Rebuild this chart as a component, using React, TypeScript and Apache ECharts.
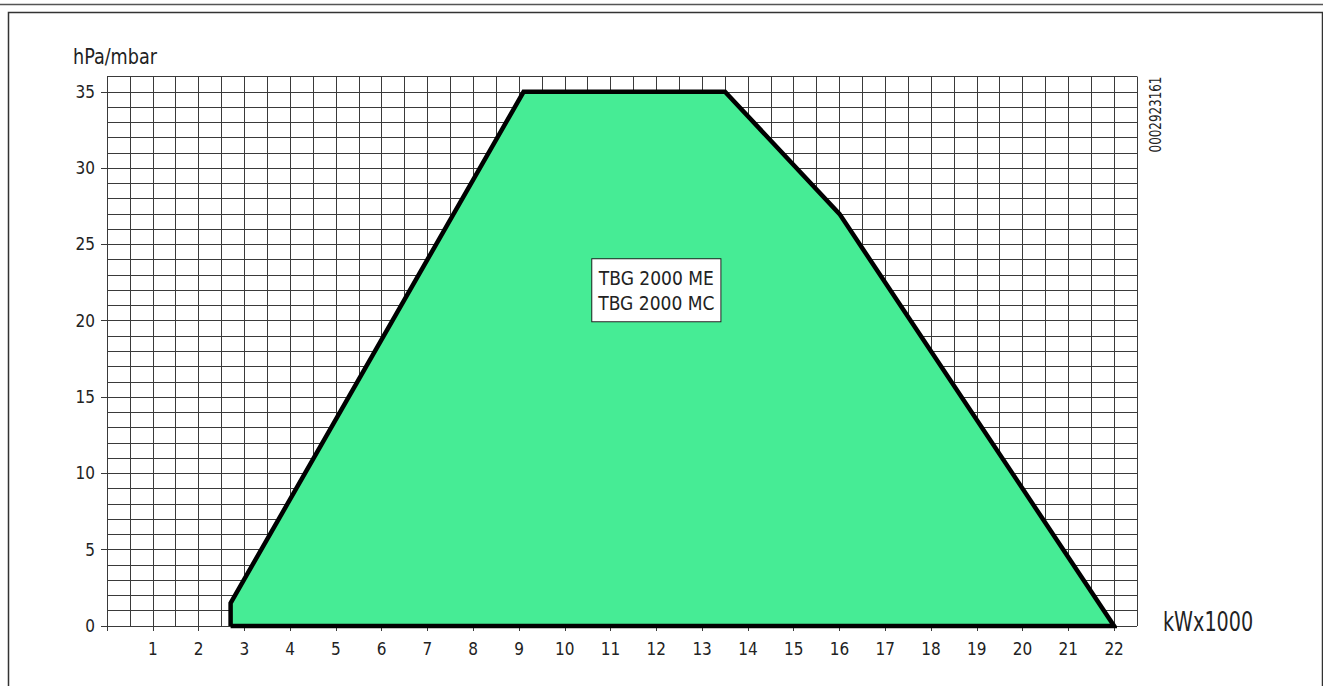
import React, { useEffect, useRef } from "react";
import * as echarts from "echarts";

// Operating range envelope (kW x 1000, hPa/mbar)
const envelopeX = [2.7, 2.7, 9.1, 13.5, 16, 22, 2.7];
const envelopeY = [0, 1.5, 35, 35, 27, 0, 0];

const xTickLabels = ["1", "2", "3", "4", "5", "6", "7", "8", "9", "10", "11", "12", "13", "14", "15", "16", "17", "18", "19", "20", "21", "22"];
const yTickLabels = ["0", "5", "10", "15", "20", "25", "30", "35"];

const modelNames = ["TBG 2000 ME", "TBG 2000 MC"];
const labelPoint = [12, 22];

const yUnit = "hPa/mbar";
const xUnit = "kWx1000";
const docCode = "0002923161";

const FONT = "'Liberation Sans Narrow', 'Arial Narrow', 'DejaVu Sans Condensed', sans-serif";
const GRID_COLOR = "#3a3a3a";
const TEXT_COLOR = "#222";

export default function App() {
  const ref = useRef<HTMLDivElement>(null);

  useEffect(() => {
    if (!ref.current) return;
    const chart = echarts.init(ref.current, undefined, { renderer: "svg" });

    const xMax = 22.5;
    const yMax = 36;
    const left = 107;
    const right = 186;
    const top = 76.5;
    const bottom = 60;
    const plotW = 1323 - left - right;
    const plotH = 686 - top - bottom;
    const xLabMax = Number(xTickLabels[xTickLabels.length - 1]);
    const yLabMax = Number(yTickLabels[yTickLabels.length - 1]);
    const right2 = right + (plotW * (xMax - xLabMax)) / xMax;
    const top2 = top + (plotH * (yMax - yLabMax)) / yMax;

    const data = envelopeX.map((x, i) => [x, envelopeY[i]]);

    chart.setOption({
      animation: false,
      backgroundColor: "#fff",
      grid: [
        { left, right, top, bottom, show: false },
        { left, right: right2, top: top2, bottom, show: false },
      ],
      xAxis: [
        {
          type: "value",
          gridIndex: 0,
          min: 0,
          max: xMax,
          interval: 0.5,
          axisLine: { show: false },
          axisTick: { show: false },
          axisLabel: { show: false },
          splitLine: { show: true, lineStyle: { color: GRID_COLOR, width: 1 } },
        },
        {
          type: "value",
          gridIndex: 1,
          min: 0,
          max: xLabMax,
          interval: 1,
          axisLine: { show: true, lineStyle: { color: GRID_COLOR, width: 1 } },
          axisTick: { show: true, length: 5, lineStyle: { color: GRID_COLOR, width: 1 } },
          axisLabel: {
            show: true,
            margin: 14,
            fontSize: 17,
            fontFamily: FONT,
            color: TEXT_COLOR,
            formatter: (v: number) => (xTickLabels.includes(String(v)) ? String(v) : ""),
          },
          splitLine: { show: false },
        },
      ],
      yAxis: [
        {
          type: "value",
          gridIndex: 0,
          min: 0,
          max: yMax,
          interval: 1,
          axisLine: { show: false },
          axisTick: { show: false },
          axisLabel: { show: false },
          splitLine: { show: true, lineStyle: { color: GRID_COLOR, width: 1 } },
        },
        {
          type: "value",
          gridIndex: 1,
          min: 0,
          max: yLabMax,
          interval: 5,
          axisLine: { show: true, lineStyle: { color: GRID_COLOR, width: 1 } },
          axisTick: { show: true, length: 6, lineStyle: { color: GRID_COLOR, width: 1 } },
          axisLabel: {
            show: true,
            margin: 12,
            fontSize: 17,
            fontFamily: FONT,
            color: TEXT_COLOR,
            formatter: (v: number) => (yTickLabels.includes(String(v)) ? String(v) : ""),
          },
          splitLine: { show: false },
        },
      ],
      series: [
        {
          type: "line",
          xAxisIndex: 1,
          yAxisIndex: 1,
          data,
          symbol: "none",
          clip: false,
          lineStyle: { color: "#000", width: 4.5, join: "miter" },
          areaStyle: { color: "#46ec95", opacity: 1 },
          markPoint: {
            symbol: "circle",
            symbolSize: 1,
            itemStyle: { color: "rgba(0,0,0,0)" },
            data: [
              {
                coord: labelPoint,
                label: {
                  show: true,
                  position: "inside",
                  formatter: modelNames.join("\n"),
                  fontFamily: FONT,
                  fontSize: 19,
                  lineHeight: 25,
                  color: TEXT_COLOR,
                  backgroundColor: "#fff",
                  borderColor: "#222",
                  borderWidth: 1,
                  padding: [6, 6, 6, 6],
                  align: "center",
                  verticalAlign: "middle",
                },
              },
            ],
          },
        },
      ],
      graphic: [
        {
          type: "line",
          shape: { x1: 0, y1: 4.5, x2: 1323, y2: 4.5 },
          style: { stroke: "#555", lineWidth: 1.5 },
          silent: true,
        },
        {
          type: "polyline",
          shape: { points: [[8.5, 700], [8.5, 12.5], [1322.5, 12.5], [1322.5, 700]] },
          style: { stroke: "#333", lineWidth: 1.5, fill: null },
          silent: true,
        },
        {
          type: "text",
          x: 73,
          y: 57,
          scaleX: 0.89,
          style: {
            text: yUnit,
            fontFamily: FONT,
            fontSize: 22,
            fill: TEXT_COLOR,
            align: "left",
            verticalAlign: "middle",
          },
        },
        {
          type: "text",
          x: 1163,
          y: 622,
          scaleX: 0.82,
          style: {
            text: xUnit,
            fontFamily: FONT,
            fontSize: 26,
            fill: TEXT_COLOR,
            align: "left",
            verticalAlign: "middle",
          },
        },
        {
          type: "text",
          x: 1155,
          y: 114.5,
          rotation: Math.PI / 2,
          scaleX: 0.83,
          style: {
            text: docCode,
            fontFamily: FONT,
            fontSize: 16,
            fill: TEXT_COLOR,
            align: "center",
            verticalAlign: "middle",
          },
        },
      ],
    });

    return () => chart.dispose();
  }, []);

  return (
    <div
      ref={ref}
      style={{ position: "fixed", left: 0, top: 0, width: 1323, height: 686 }}
    />
  );
}
